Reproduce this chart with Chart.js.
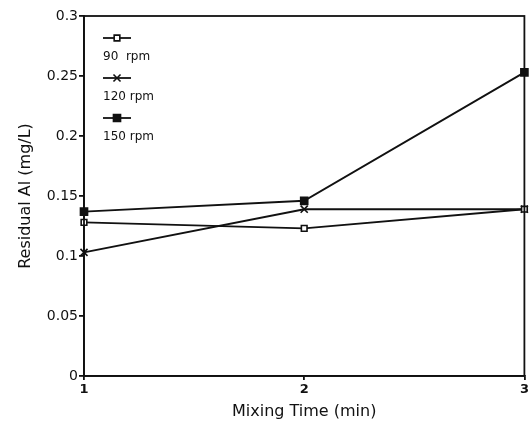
<!DOCTYPE html>
<html>
<head>
<meta charset="utf-8">
<script src="https://cdn.jsdelivr.net/npm/chart.js@4/dist/chart.umd.min.js"></script>
<style>
  html, body { margin: 0; padding: 0; background: #fff; }
  #wrap { width: 531px; height: 425px; position: relative; }
</style>
</head>
<body>
<div id="wrap"><canvas id="chart"></canvas></div>
<script>
// Data
const mixingTime = [1, 2, 3];
const rpm90 = [0.128, 0.123, 0.139];
const rpm120 = [0.103, 0.139, 0.139];
const rpm150 = [0.137, 0.146, 0.253];
const seriesLabels = ['90  rpm', '120 rpm', '150 rpm'];
const yTicks = [0, 0.05, 0.1, 0.15, 0.2, 0.25, 0.3];
const xTicks = [1, 2, 3];

const ink = '#111';
const font = "'DejaVu Sans', Arial, sans-serif";

function toPoints(vals) {
    return mixingTime.map((t, i) => ({ x: t, y: vals[i] }));
}

// Box around the plot area
const framePlugin = {
    id: 'frame',
    afterDatasetsDraw(chart) {
        const a = chart.chartArea;
        const ctx = chart.ctx;
        ctx.save();
        ctx.strokeStyle = ink;
        ctx.lineWidth = 1.8;
        ctx.strokeRect(a.left, a.top, a.right - a.left, a.bottom - a.top);
        ctx.restore();
    }
};

// Legend: line sample with marker, label under it
const stackedLegend = {
    id: 'stackedLegend',
    afterDraw(chart) {
        const a = chart.chartArea;
        const ctx = chart.ctx;
        ctx.save();
        chart.data.datasets.forEach((ds, i) => {
            const x0 = a.left + 19;
            const y = a.top + 22 + i * 40;
            ctx.strokeStyle = ink;
            ctx.lineWidth = 1.8;
            ctx.beginPath();
            ctx.moveTo(x0, y);
            ctx.lineTo(x0 + 28, y);
            ctx.stroke();
            ctx.fillStyle = ds.pointBackgroundColor;
            ctx.strokeStyle = ink;
            ctx.lineWidth = ds.pointBorderWidth;
            Chart.helpers.drawPoint(ctx, {
                pointStyle: ds.pointStyle,
                radius: ds.pointRadius,
                borderWidth: ds.pointBorderWidth,
                rotation: 0
            }, x0 + 14, y);
            ctx.fillStyle = ink;
            ctx.font = '12px ' + font;
            ctx.textBaseline = 'middle';
            ctx.textAlign = 'left';
            ctx.fillText(ds.label, x0, y + 19);
        });
        ctx.restore();
    }
};

function makeSet(label, vals, style, bg, r) {
    return {
        label: label,
        data: toPoints(vals),
        borderColor: ink,
        borderWidth: 1.9,
        pointStyle: style,
        pointRadius: r,
        pointBorderWidth: 1.6,
        pointBackgroundColor: bg,
        pointBorderColor: ink,
        tension: 0,
        clip: false
    };
}

new Chart(document.getElementById('chart'), {
    type: 'line',
    data: {
        datasets: [
            makeSet(seriesLabels[0], rpm90, 'rect', '#fff', 4),
            makeSet(seriesLabels[1], rpm120, 'crossRot', ink, 5),
            makeSet(seriesLabels[2], rpm150, 'rect', ink, 5)
        ]
    },
    options: {
        responsive: true,
        maintainAspectRatio: false,
        animation: false,
        layout: { padding: { top: 16, right: 6, left: 12, bottom: 0 } },
        plugins: {
            legend: { display: false },
            tooltip: { enabled: false }
        },
        scales: {
            x: {
                type: 'linear',
                min: 1,
                max: 3,
                afterBuildTicks(scale) {
                    scale.ticks = xTicks.map(v => ({ value: v }));
                },
                afterFit(scale) { scale.height = 49; },
                grid: { display: true, drawOnChartArea: false, tickLength: 4, color: ink, lineWidth: 1.8 },
                border: { display: true, color: ink, width: 1.8 },
                ticks: { color: ink, padding: 2, font: { family: font, size: 13, weight: 'bold' } },
                title: {
                    display: true,
                    text: 'Mixing Time (min)',
                    color: ink,
                    padding: { top: 0 },
                    font: { family: font, size: 16 }
                }
            },
            y: {
                min: 0,
                max: 0.3,
                afterBuildTicks(scale) {
                    scale.ticks = yTicks.map(v => ({ value: v }));
                },
                afterFit(scale) { scale.width = 72; },
                grid: { display: true, drawOnChartArea: false, tickLength: 5, color: ink, lineWidth: 1.8 },
                border: { display: true, color: ink, width: 1.8 },
                ticks: {
                    color: ink,
                    padding: 1,
                    font: { family: font, size: 14 },
                    callback: v => String(v)
                },
                title: {
                    display: true,
                    text: 'Residual Al (mg/L)',
                    color: ink,
                    padding: { bottom: 4 },
                    font: { family: font, size: 16 }
                }
            }
        }
    },
    plugins: [framePlugin, stackedLegend]
});
</script>
</body>
</html>
